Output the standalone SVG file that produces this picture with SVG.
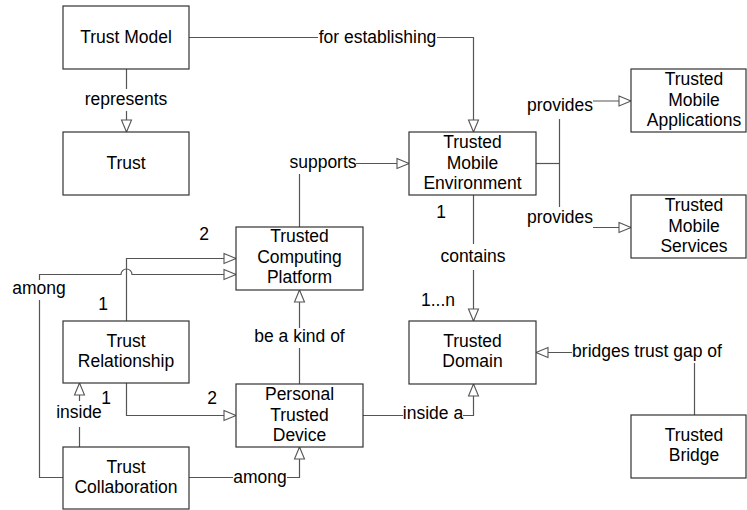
<svg xmlns="http://www.w3.org/2000/svg" width="747" height="510" viewBox="0 0 747 510">
<style>
.box{fill:#fff;stroke:#333;stroke-width:1.2}
.t{font-family:"Liberation Sans",Arial,sans-serif;font-size:17.5px;fill:#000;text-anchor:middle}
.c{fill:none;stroke:#555;stroke-width:1.2}
.a{fill:none;stroke:#555;stroke-width:1.2;marker-end:url(#arr)}
</style>
<defs>
<marker id="arr" markerUnits="userSpaceOnUse" markerWidth="14" markerHeight="12" refX="12" refY="5" orient="auto" overflow="visible">
<path d="M0,0 L12,5 L0,10 Z" fill="#fff" stroke="#555" stroke-width="1.1"/>
</marker>
</defs>
<rect width="747" height="510" fill="#fff"/>

<g id="connectors">
<!-- Trust Model -> TME -->
<polyline class="c" points="189,37.5 318,37.5"/>
<polyline class="a" points="437,37.5 473.5,37.5 473.5,132"/>
<text class="t" x="377.5" y="43">for establishing</text>
<!-- Trust Model -> Trust -->
<line class="c" x1="126.5" y1="69" x2="126.5" y2="89"/>
<polyline class="a" points="126.5,111 126.5,132"/>
<text class="t" x="126" y="105">represents</text>
<!-- TCP -> TME supports -->
<polyline class="c" points="299.5,227 299.5,174"/>
<polyline class="a" points="356,163.5 409,163.5"/>
<text class="t" x="323" y="168">supports</text>
<!-- TME -> TMA / TMS -->
<line class="c" x1="536" y1="163.5" x2="559.5" y2="163.5" stroke-width="2"/>
<line class="c" x1="559.5" y1="119" x2="559.5" y2="207"/>
<text class="t" x="560" y="111">provides</text>
<polyline class="a" points="593,101 631,101"/>
<text class="t" x="560" y="223">provides</text>
<polyline class="a" points="593,227.5 631,227.5"/>
<!-- TME -> TD contains -->
<line class="c" x1="473.5" y1="195" x2="473.5" y2="244"/>
<polyline class="a" points="473.5,270 473.5,321"/>
<text class="t" x="473" y="262">contains</text>
<text class="t" x="441" y="218">1</text>
<text class="t" x="438" y="306">1...n</text>
<!-- TB -> TD -->
<polyline class="c" points="694.5,415 694.5,363"/>
<polyline class="a" points="572,352.5 536,352.5"/>
<text class="t" x="647" y="357">bridges trust gap of</text>
<!-- PTD -> TD inside a -->
<line class="c" x1="363" y1="415.5" x2="403" y2="415.5"/>
<polyline class="a" points="463,415.5 473.5,415.5 473.5,384"/>
<text class="t" x="433" y="419">inside a</text>
<!-- PTD -> TCP be a kind of -->
<line class="c" x1="299.5" y1="384" x2="299.5" y2="348"/>
<polyline class="a" points="299.5,328 299.5,290"/>
<text class="t" x="299.5" y="342">be a kind of</text>
<!-- TC -> PTD among -->
<line class="c" x1="189" y1="477.5" x2="233" y2="477.5"/>
<polyline class="a" points="287,477.5 299.5,477.5 299.5,447"/>
<text class="t" x="260" y="483">among</text>
<!-- TC -> TR inside -->
<line class="c" x1="79.5" y1="447" x2="79.5" y2="427"/>
<polyline class="a" points="79.5,401 79.5,383"/>
<text class="t" x="79" y="418">inside</text>
<!-- TR -> PTD -->
<polyline class="a" points="126.5,383 126.5,415.5 236,415.5"/>
<text class="t" x="106" y="404">1</text>
<text class="t" x="212" y="404">2</text>
<!-- TR -> TCP -->
<polyline class="a" points="126.5,321 126.5,258.5 236,258.5"/>
<text class="t" x="103" y="310">1</text>
<text class="t" x="204" y="240">2</text>
<!-- TC -> TCP among (with hop) -->
<polyline class="c" points="63,477.5 39.5,477.5 39.5,300"/>
<path class="a" d="M39.5,280 L39.5,274.5 L121,274.5 A5.5,5.5 0 0 1 132,274.5 L236,274.5"/>
<text class="t" x="39" y="294">among</text>
</g>

<g id="trust-model"><rect class="box" x="63" y="6" width="126" height="63"/><text class="t" x="126" y="43">Trust Model</text></g>
<g id="trust"><rect class="box" x="63" y="132" width="126" height="63"/><text class="t" x="126" y="169">Trust</text></g>
<g id="trusted-mobile-environment"><rect class="box" x="409" y="132" width="127" height="63"/><text class="t" x="472.5" y="148">Trusted</text><text class="t" x="472.5" y="168.5">Mobile</text><text class="t" x="472.5" y="189">Environment</text></g>
<g id="trusted-mobile-applications"><rect class="box" x="631" y="69" width="115" height="63"/><text class="t" x="694" y="85">Trusted</text><text class="t" x="694" y="105.5">Mobile</text><text class="t" x="694" y="126">Applications</text></g>
<g id="trusted-mobile-services"><rect class="box" x="631" y="195" width="115" height="63"/><text class="t" x="694" y="211">Trusted</text><text class="t" x="694" y="231.5">Mobile</text><text class="t" x="694" y="252">Services</text></g>
<g id="trusted-computing-platform"><rect class="box" x="236" y="227" width="127" height="63"/><text class="t" x="299.5" y="242">Trusted</text><text class="t" x="299.5" y="262.5">Computing</text><text class="t" x="299.5" y="283">Platform</text></g>
<g id="trust-relationship"><rect class="box" x="63" y="321" width="126" height="62"/><text class="t" x="126" y="347">Trust</text><text class="t" x="126" y="367">Relationship</text></g>
<g id="trusted-domain"><rect class="box" x="409" y="321" width="127" height="63"/><text class="t" x="472.5" y="347">Trusted</text><text class="t" x="472.5" y="367">Domain</text></g>
<g id="personal-trusted-device"><rect class="box" x="236" y="384" width="127" height="63"/><text class="t" x="299.5" y="400">Personal</text><text class="t" x="299.5" y="420.5">Trusted</text><text class="t" x="299.5" y="441">Device</text></g>
<g id="trust-collaboration"><rect class="box" x="63" y="447" width="126" height="62"/><text class="t" x="126" y="473">Trust</text><text class="t" x="126" y="493">Collaboration</text></g>
<g id="trusted-bridge"><rect class="box" x="631" y="415" width="115" height="63"/><text class="t" x="694" y="441">Trusted</text><text class="t" x="694" y="461">Bridge</text></g>
</svg>
